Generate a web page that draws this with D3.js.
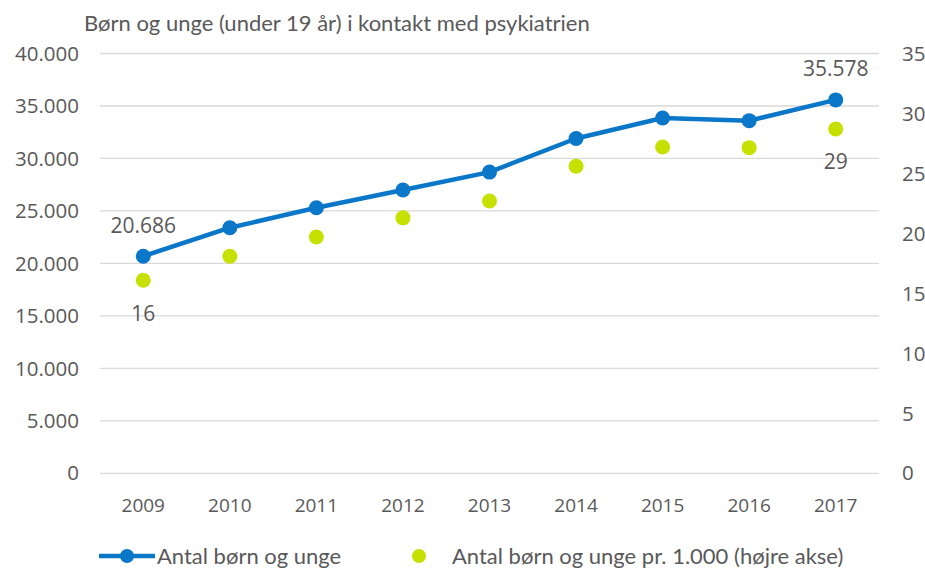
<!DOCTYPE html>
<html><head><meta charset="utf-8">
<script src="https://cdn.jsdelivr.net/npm/d3@7"></script>
<style>body{margin:0;background:#fff}svg{display:block}</style>
</head><body>
<svg id="c" width="925" height="569"></svg>
<script>
const years = ["2009","2010","2011","2012","2013","2014","2015","2016","2017"];
const antal = [20686, 23400, 25300, 27000, 28700, 31900, 33850, 33600, 35578];
const perTusind = [16.1, 18.1, 19.7, 21.3, 22.7, 25.6, 27.2, 27.15, 28.7];
const leftTicks = [0,5000,10000,15000,20000,25000,30000,35000,40000];
const rightTicks = [0,5,10,15,20,25,30,35];
const title = "Børn og unge (under 19 år) i kontakt med psykiatrien";
const legendLabels = ["Antal børn og unge", "Antal børn og unge pr. 1.000 (højre akse)"];
const labelledBlue = {"2009":"20.686","2017":"35.578"};
const labelledGreen = {"2009":"16","2017":"29"};

const blue = "#0a77c8", green = "#c6e000", txt = "#595959", grid = "#d9d9d9";
const svg = d3.select("#c");
const x = d3.scalePoint().domain(years).range([100, 879]).padding(0.5);
const yL = d3.scaleLinear().domain([0,40000]).range([473.3, 53.5]);
const yR = d3.scaleLinear().domain([0,35]).range([473.3, 53.5]);
const loc = d3.formatLocale({decimal:",", thousands:".", grouping:[3], currency:["",""]});
const fmt = loc.format(",d");
const tickFont = "'Open Sans', sans-serif";
const textFont = "Lato, 'Open Sans', sans-serif";

// gridlines
svg.append("g").selectAll("line").data(leftTicks).join("line")
  .attr("x1",100).attr("x2",879).attr("y1",d=>yL(d)).attr("y2",d=>yL(d))
  .attr("stroke",grid).attr("stroke-width",1.3);

// left axis labels
svg.append("g").selectAll("text").data(leftTicks).join("text")
  .attr("x",79).attr("y",d=>yL(d)).attr("dy","0.35em").attr("text-anchor","end")
  .attr("font-family",tickFont).attr("font-size",20.5).attr("fill",txt).text(d=>fmt(d));

// right axis labels
svg.append("g").selectAll("text").data(rightTicks).join("text")
  .attr("x",902).attr("y",d=>yR(d)).attr("dy","0.35em").attr("text-anchor","start")
  .attr("font-family",tickFont).attr("font-size",20.5).attr("fill",txt).text(d=>d);

// x labels
svg.append("g").selectAll("text").data(years).join("text")
  .attr("x",d=>x(d)).attr("y",505).attr("dy","0.35em").attr("text-anchor","middle")
  .attr("font-family",tickFont).attr("font-size",19).attr("fill",txt).text(d=>d);

// title
svg.append("text").attr("x",84).attr("y",31).attr("font-family",textFont)
  .attr("font-size",22).attr("fill",txt).text(title);

const pts = years.map((y,i)=>({y, a:antal[i], p:perTusind[i]}));

// green dots
svg.append("g").selectAll("circle").data(pts).join("circle")
  .attr("cx",d=>x(d.y)).attr("cy",d=>yR(d.p)).attr("r",7.5).attr("fill",green);

// blue line
svg.append("path").datum(pts)
  .attr("d",d3.line().x(d=>x(d.y)).y(d=>yL(d.a)))
  .attr("fill","none").attr("stroke",blue).attr("stroke-width",4.5).attr("stroke-linejoin","round");
svg.append("g").selectAll("circle").data(pts).join("circle")
  .attr("cx",d=>x(d.y)).attr("cy",d=>yL(d.a)).attr("r",7.5).attr("fill",blue);

// data labels
svg.append("g").selectAll("text").data(pts.filter(d=>labelledBlue[d.y])).join("text")
  .attr("x",d=>x(d.y)).attr("y",d=>yL(d.a)-31).attr("dy","0.35em").attr("text-anchor","middle")
  .attr("font-family",tickFont).attr("font-size",21).attr("fill",txt).text(d=>labelledBlue[d.y]);
svg.append("g").selectAll("text").data(pts.filter(d=>labelledGreen[d.y])).join("text")
  .attr("x",d=>x(d.y)).attr("y",d=>yR(d.p)+33).attr("dy","0.35em").attr("text-anchor","middle")
  .attr("font-family",tickFont).attr("font-size",21).attr("fill",txt).text(d=>labelledGreen[d.y]);

// legend
const ly = 556;
const lg = svg.append("g");
lg.append("line").attr("x1",99).attr("x2",155).attr("y1",ly).attr("y2",ly).attr("stroke",blue).attr("stroke-width",4.5);
lg.append("circle").attr("cx",127).attr("cy",ly).attr("r",7).attr("fill",blue);
lg.append("text").attr("x",157).attr("y",ly).attr("dy","0.35em").attr("font-family",textFont)
  .attr("font-size",22).attr("fill",txt).text(legendLabels[0]);
lg.append("circle").attr("cx",419).attr("cy",ly).attr("r",7).attr("fill",green);
lg.append("text").attr("x",452).attr("y",ly).attr("dy","0.35em").attr("font-family",textFont)
  .attr("font-size",22).attr("fill",txt).text(legendLabels[1]);
</script>
</body></html>
